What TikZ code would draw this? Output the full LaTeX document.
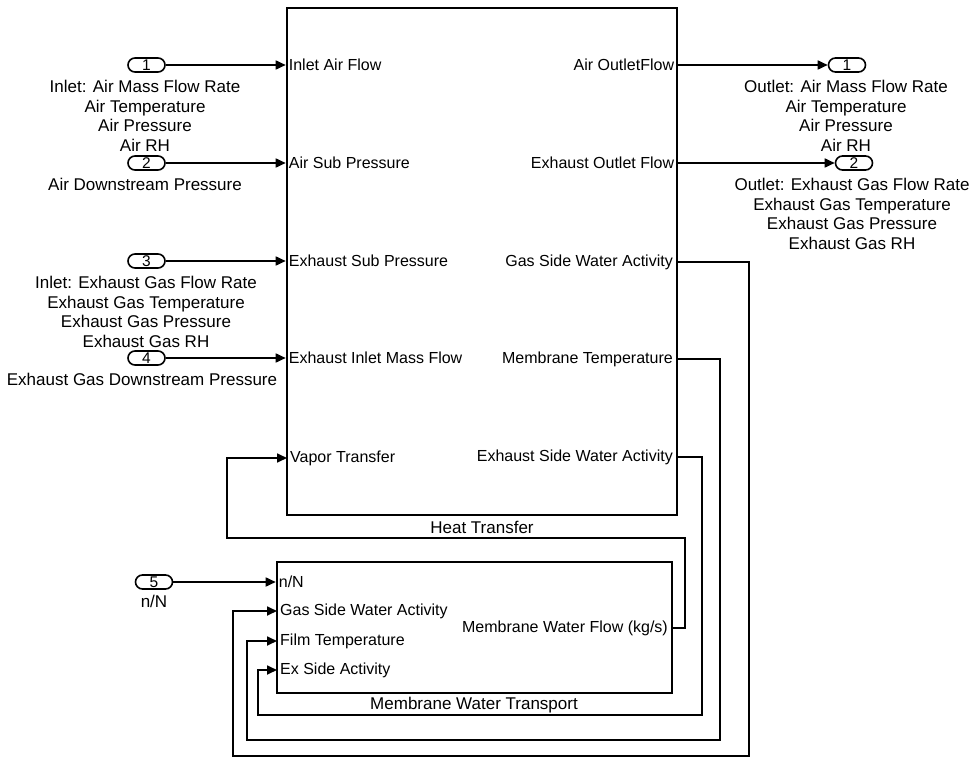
\documentclass[tikz,border=0pt]{standalone}
\usepackage{fontspec}
\setmainfont{Liberation Sans}
\usetikzlibrary{arrows.meta}
\begin{document}
\begin{tikzpicture}[x=1pt,y=-1pt,
  blk/.style={draw, line width=2.6pt, inner sep=0pt, fill=white},
  wire/.style={line width=1.7pt},
  arr/.style={wire, -{Triangle[length=10pt,width=9pt]}},
  portnum/.style={draw, line width=1.6pt, rounded corners=7pt, minimum width=37pt, minimum height=14pt, inner sep=0pt, font=\fontsize{15.5}{15.5}\selectfont},
  plabel/.style={inner sep=0pt, font=\fontsize{16}{16}\selectfont},
  note/.style={inner sep=0pt, align=center, font=\fontsize{17}{19.5}\selectfont, anchor=north},
  btitle/.style={inner sep=0pt, font=\fontsize{17}{17}\selectfont}
]
\useasboundingbox (0,0) rectangle (971,759);

% blocks
\node[blk, minimum width=390pt, minimum height=507pt] (main) at (482,261.5) {};
\node[blk, minimum width=395pt, minimum height=131pt] (mwt) at (474.5,627.5) {};
\node[btitle] (ttlmain) at (482,527) {Heat Transfer};
\node[btitle] (ttlmwt) at (474,705) {Membrane Water Transport};

% inports
\node[portnum] (in1) at (146.5,65) {1};
\node[portnum] (in2) at (146.5,163) {2};
\node[portnum] (in3) at (146.5,261) {3};
\node[portnum] (in4) at (146.5,358) {4};
\node[portnum] (in5) at (154,582) {5};
% outports
\node[portnum] (out1) at (847,65) {1};
\node[portnum] (out2) at (854,163) {2};

% inport/outport annotations
\node[note] (n1) at (145,80) {Inlet: Air Mass Flow Rate\\Air Temperature\\Air Pressure\\Air RH};
\node[note] (n2) at (145,178) {Air Downstream Pressure};
\node[note] (n3) at (146,276) {Inlet: Exhaust Gas Flow Rate\\Exhaust Gas Temperature\\Exhaust Gas Pressure\\Exhaust Gas RH};
\node[note] (n4) at (142,373) {Exhaust Gas Downstream Pressure};
\node[note] (n5) at (154,595) {n/N};
\node[note] (no1) at (846,80) {Outlet: Air Mass Flow Rate\\Air Temperature\\Air Pressure\\Air RH};
\node[note] (no2) at (852,178) {Outlet: Exhaust Gas Flow Rate\\Exhaust Gas Temperature\\Exhaust Gas Pressure\\Exhaust Gas RH};

% port coordinates on main block
\coordinate (mi1) at (main.west |- in1);
\coordinate (mi2) at (main.west |- in2);
\coordinate (mi3) at (main.west |- in3);
\coordinate (mi4) at (main.west |- in4);
\coordinate (mi5) at (287,458);
\coordinate (mo1) at (main.east |- out1);
\coordinate (mo2) at (main.east |- out2);
\coordinate (mo3) at (677,262);
\coordinate (mo4) at (677,359);
\coordinate (mo5) at (677,457);
% port coordinates on membrane block
\coordinate (wi1) at (mwt.west |- in5);
\coordinate (wi2) at (277,611);
\coordinate (wi3) at (277,641);
\coordinate (wi4) at (277,670);
\coordinate (wo1) at (672,628);

% port labels main
\node[plabel, anchor=west] (lmi1) at ([xshift=3pt]mi1) {Inlet Air Flow};
\node[plabel, anchor=west] (lmi2) at ([xshift=3pt]mi2) {Air Sub Pressure};
\node[plabel, anchor=west] (lmi3) at ([xshift=3pt]mi3) {Exhaust Sub Pressure};
\node[plabel, anchor=west] (lmi4) at ([xshift=3pt]mi4) {Exhaust Inlet Mass Flow};
\node[plabel, anchor=west] (lmi5) at ([xshift=3pt]mi5) {Vapor Transfer};
\node[plabel, anchor=east] (lmo1) at ([xshift=-4pt]mo1) {Air OutletFlow};
\node[plabel, anchor=east] (lmo2) at ([xshift=-4pt]mo2) {Exhaust Outlet Flow};
\node[plabel, anchor=east] (lmo3) at ([xshift=-4pt]mo3) {Gas Side Water Activity};
\node[plabel, anchor=east] (lmo4) at ([xshift=-4pt]mo4) {Membrane Temperature};
\node[plabel, anchor=east] (lmo5) at ([xshift=-4pt]mo5) {Exhaust Side Water Activity};
% port labels membrane block
\node[plabel, anchor=west] (lwi1) at ([xshift=3pt]wi1) {n/N};
\node[plabel, anchor=west] (lwi2) at ([xshift=3pt]wi2) {Gas Side Water Activity};
\node[plabel, anchor=west] (lwi3) at ([xshift=3pt]wi3) {Film Temperature};
\node[plabel, anchor=west] (lwi4) at ([xshift=3pt]wi4) {Ex Side Activity};
\node[plabel, anchor=east] (lwo1) at ([xshift=-4pt]wo1) {Membrane Water Flow (kg/s)};

% wires
\draw[arr] (in1.east) -- (mi1);
\draw[arr] (in2.east) -- (mi2);
\draw[arr] (in3.east) -- (mi3);
\draw[arr] (in4.east) -- (mi4);
\draw[arr] (in5.east) -- (wi1);
\draw[arr] (mo1) -- (out1.west);
\draw[arr] (mo2) -- (out2.west);
\draw[arr] (wo1) -- (685,628) -- (685,538) -- (227,538) -- (227,458) -- (mi5);
\draw[arr] (mo3) -- (749,262) -- (749,756) -- (233,756) -- (233,611) -- (wi2);
\draw[arr] (mo4) -- (720,359) -- (720,740) -- (247,740) -- (247,641) -- (wi3);
\draw[arr] (mo5) -- (702,457) -- (702,715) -- (258,715) -- (258,670) -- (wi4);
\end{tikzpicture}
\end{document}
